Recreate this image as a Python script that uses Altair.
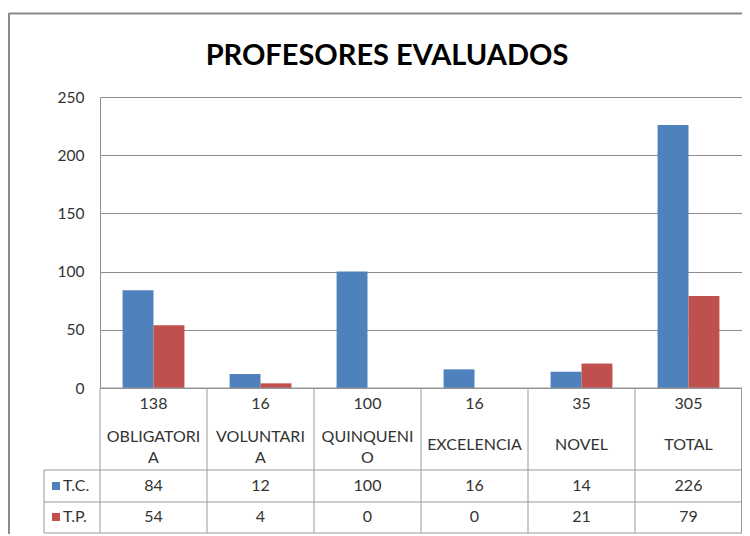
import altair as alt
import pandas as pd

categories = ["OBLIGATORIA", "VOLUNTARIA", "QUINQUENIO", "EXCELENCIA", "NOVEL", "TOTAL"]
table_labels = ["OBLIGATORI\nA", "VOLUNTARI\nA", "QUINQUENI\nO", "EXCELENCIA", "NOVEL", "TOTAL"]
totals = [138, 16, 100, 16, 35, 305]
series_names = ["T.C.", "T.P."]
tc_values = [84, 12, 100, 16, 14, 226]
tp_values = [54, 4, 0, 0, 21, 79]
colors = ["#4F81BD", "#C0504D"]
y_ticks = [0, 50, 100, 150, 200, 250]

W, H = 642, 291
FONT = "Lato"
TXT = "#333333"
LINE = "#9a9a9a"
GRID = "#8c8c8c"
FS = 16

bars_df = pd.DataFrame(
    [{"cat": c, "serie": series_names[0], "value": v} for c, v in zip(categories, tc_values)]
    + [{"cat": c, "serie": series_names[1], "value": v} for c, v in zip(categories, tp_values)]
)
table_df = pd.DataFrame({
    "cat": categories, "label": table_labels, "total": totals,
    "tc": tc_values, "tp": tp_values,
})

xscale = alt.Scale(domain=categories, paddingInner=0, paddingOuter=0)
xenc = alt.X("cat:N", scale=xscale, axis=None, sort=categories)

bars = alt.Chart(bars_df).mark_bar(strokeWidth=0).encode(
    x=xenc,
    xOffset=alt.XOffset("serie:N", scale=alt.Scale(domain=series_names, paddingInner=0, paddingOuter=0.73)),
    y=alt.Y("value:Q", scale=alt.Scale(domain=[0, 250], nice=False),
            axis=alt.Axis(values=y_ticks, title=None, grid=True, gridColor=GRID, gridWidth=1,
                          domainColor=GRID, tickSize=0, labelPadding=16, labelFont=FONT,
                          labelFontSize=15.5, labelColor=TXT)),
    color=alt.Color("serie:N", scale=alt.Scale(domain=series_names, range=colors), legend=None),
)

def row_text(field, ypix, filt=None, **kw):
    c = alt.Chart(table_df)
    if filt is not None:
        c = c.transform_filter(filt)
    return c.mark_text(font=FONT, fontSize=FS, color=TXT, baseline="middle", **kw).encode(
        x=alt.X("cat:N", scale=xscale, axis=None, sort=categories, bandPosition=0.5),
        y=alt.value(ypix),
        text=alt.Text(field),
    )

t_total = row_text("total:Q", 307)
t_label2 = row_text("label:N", 340, filt="indexof(datum.label, '\\n') >= 0", lineBreak="\n", lineHeight=21)
t_label1 = row_text("label:N", 348, filt="indexof(datum.label, '\\n') < 0")
t_tc = row_text("tc:Q", 389)
t_tp = row_text("tp:Q", 420)

vlines = alt.Chart(table_df).mark_rule(color=LINE, strokeWidth=1).encode(
    x=alt.X("cat:N", scale=xscale, axis=None, sort=categories, bandPosition=0),
    y=alt.value(H), y2=alt.value(436),
)

one = alt.Data(values=[{}])
def rule(x, x2, y, y2, color=LINE, w=1):
    return alt.Chart(one).mark_rule(color=color, strokeWidth=w).encode(
        x=alt.value(x), x2=alt.value(x2), y=alt.value(y), y2=alt.value(y2))

frame = [
    rule(W - 0.5, W - 0.5, H, 436),
    rule(0, W, H, H),
    rule(-56, W, 373, 373),
    rule(-56, W, 405, 405),
    rule(-56, W, 436, 436),
    rule(-56, -56, 373, 436),
    rule(-91, -91, -84, 440, color="#8a8a8a", w=2),
    rule(-91, 650, -83.5, -83.5, color="#8a8a8a", w=2),
]

legend_df = pd.DataFrame({"serie": series_names, "ypix": [389, 420]})
leg_sq = alt.Chart(legend_df).mark_square(size=64, opacity=1).encode(
    x=alt.value(-44), y=alt.Y("ypix:Q", scale=None),
    color=alt.Color("serie:N", scale=alt.Scale(domain=series_names, range=colors), legend=None),
)
leg_tx = alt.Chart(legend_df).mark_text(font=FONT, fontSize=FS, color=TXT, align="left", baseline="middle").encode(
    x=alt.value(-37), y=alt.Y("ypix:Q", scale=None), text="serie:N",
)

title = alt.Chart(one).mark_text(font=FONT, fontSize=29, fontWeight="bold", color="#000000",
                                  align="center", baseline="alphabetic").encode(
    x=alt.value(287), y=alt.value(-32), text=alt.value("PROFESORES EVALUADOS"))

chart = alt.layer(
    bars, vlines, *frame, t_total, t_label2, t_label1, t_tc, t_tp, leg_sq, leg_tx, title
).properties(
    width=W, height=H,
    autosize=alt.AutoSizeParams(type="none"),
    padding={"left": 92, "top": 89, "right": 0, "bottom": 146},
).configure_view(stroke=None).configure(background="white")

chart.save("out.html", embed_options={"renderer": "svg", "actions": False})
